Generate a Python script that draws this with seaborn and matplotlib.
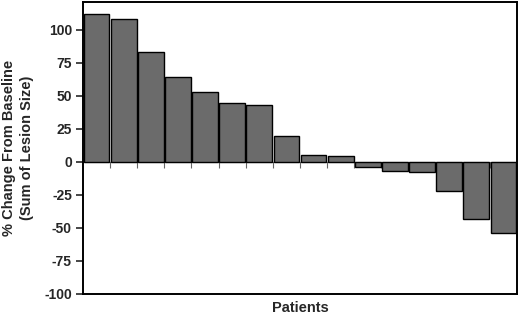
import matplotlib
matplotlib.use("Agg")
import matplotlib.pyplot as plt
import seaborn as sns
import pandas as pd

# % change from baseline per patient (sorted waterfall)
patients = [f"P{i:02d}" for i in range(1, 17)]
pct_change = [112, 108, 83, 64, 53, 44.5, 43, 19.5, 5, 4.5, -4, -7, -8, -22, -43.5, -54]
y_ticks = [100, 75, 50, 25, 0, -25, -50, -75, -100]

df = pd.DataFrame({"patient": patients, "change": pct_change})

sns.set_style("white")
plt.rcParams["font.family"] = ["Liberation Sans", "DejaVu Sans"]

fig = plt.figure(figsize=(5.2, 3.19), dpi=100)
ax = fig.add_axes([0.1596, 0.0784, 0.8346, 0.9153])

sns.barplot(data=df, x="patient", y="change", color="#6b6b6b", saturation=1,
            width=0.95, edgecolor="black", linewidth=1.0, ax=ax)

ax.axhline(0, color="#555555", lw=0.8, zorder=0)
ax.set_xlim(-0.5, len(patients) - 0.5)
ax.set_ylim(-100, 121)
ax.set_yticks(y_ticks)
ax.set_yticklabels([str(t) for t in y_ticks], fontsize=10, fontweight="bold")
ax.tick_params(axis="y", direction="out", length=5, width=1.2, left=True, pad=3)
ax.set_xticks([])
ax.set_xlabel("Patients", fontsize=10.5, fontweight="bold", labelpad=5)
ax.set_ylabel("% Change From Baseline\n(Sum of Lesion Size)", fontsize=10.5,
              fontweight="bold", labelpad=7, linespacing=1.4)

for s in ax.spines.values():
    s.set_linewidth(1.4)
    s.set_color("black")

# small ticks between patients along the zero line
zero_frac = (0 - (-100)) / (121 - (-100))
sec = ax.secondary_xaxis(zero_frac)
sec.set_xticks([i + 0.5 for i in range(len(patients) - 1)])
sec.set_xticklabels([])
sec.tick_params(direction="out", length=4, width=0.8, color="#666666")
sec.spines["bottom"].set_visible(False)

fig.savefig("out.png", dpi=100)
